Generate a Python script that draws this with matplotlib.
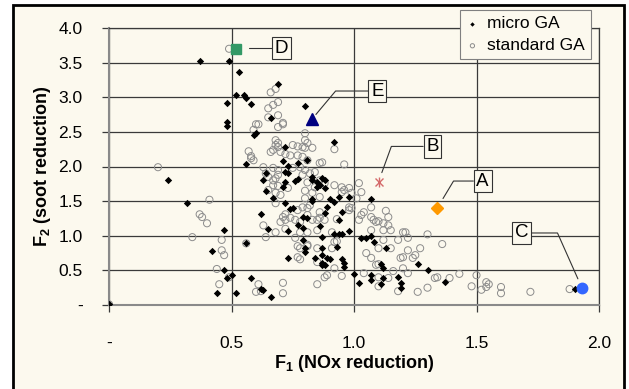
import matplotlib
matplotlib.use("Agg")
import matplotlib.pyplot as plt
from matplotlib.patches import Rectangle

# Pareto fronts: micro GA vs standard GA
micro_x = [0.37, 0.49, 0.53, 0.52, 0.55, 0.56, 0.48, 0.58, 0.48, 0.48, 0.59, 0.60, 0.56, 0.24,
           0.69, 0.66, 0.80, 0.72, 0.32, 0.47, 0.42, 0.47, 0.48, 0.44, 0.00, 0.62, 0.65, 0.56,
           0.73, 0.84, 0.58, 0.52, 0.62, 0.63, 0.66, 0.50, 0.71, 0.73, 0.77, 0.81, 0.64, 0.63,
           0.72, 0.73, 0.77, 0.76, 0.72, 0.71, 0.64, 0.83, 0.83, 0.85, 0.87, 0.85, 0.67, 0.72,
           0.83, 0.83, 0.75, 0.74, 0.79, 0.81, 0.77, 0.79, 0.73, 0.79, 0.80, 0.80, 0.87, 0.87,
           0.87, 0.87, 0.92, 0.88, 0.88, 0.90, 0.92, 0.94, 0.98, 1.07, 0.86, 0.89, 0.88, 0.95,
           0.94, 0.98, 0.95, 0.94, 0.92, 0.86, 0.87, 1.03, 1.05, 1.07, 1.08, 0.93, 0.89, 0.90,
           0.95, 0.96, 0.96, 0.88, 1.00, 1.02, 1.07, 1.07, 1.11, 1.12, 1.12, 1.11, 1.13, 1.18,
           1.19, 1.19, 1.26, 1.30, 1.37, 1.90]
micro_y = [3.52, 3.52, 3.36, 3.03, 3.03, 2.99, 2.91, 2.90, 2.64, 2.58, 2.45, 2.48, 2.03, 1.80,
           3.19, 2.70, 2.87, 2.28, 1.47, 1.08, 0.78, 0.50, 0.39, 0.17, 0.01, 1.31, 1.10, 0.89,
           0.68, 0.68, 0.39, 0.17, 0.23, 0.22, 0.12, 0.43, 2.08, 2.01, 2.05, 2.09, 1.90, 1.80,
           1.92, 1.90, 1.82, 1.79, 1.77, 1.70, 1.65, 1.85, 1.80, 1.77, 1.83, 1.70, 1.54, 1.47,
           1.50, 1.53, 1.40, 1.39, 1.27, 1.26, 1.15, 1.11, 1.07, 0.94, 0.82, 0.76, 0.82, 0.72,
           0.61, 0.58, 2.35, 1.80, 1.69, 1.53, 1.49, 1.56, 1.56, 1.53, 1.73, 1.41, 1.33, 1.34,
           1.23, 1.07, 1.02, 1.02, 1.02, 1.14, 0.98, 0.97, 0.97, 1.00, 0.91, 0.84, 0.68, 0.66,
           0.66, 0.61, 0.55, 0.58, 0.45, 0.32, 0.43, 0.36, 0.59, 0.53, 0.39, 0.30, 0.82, 0.40,
           0.32, 0.25, 0.59, 0.51, 0.33, 0.23]

std_x = [0.20, 0.41, 0.37, 0.38, 0.40, 0.34, 0.46, 0.46, 0.47, 0.44, 0.45, 0.00, 0.49, 0.66,
         0.68, 0.65, 0.67, 0.69, 0.69, 0.65, 0.69, 0.71, 0.60, 0.61, 0.59, 0.57, 0.58, 0.58,
         0.80, 0.80, 0.68, 0.68, 0.75, 0.79, 0.83, 0.66, 0.70, 0.72, 0.67, 0.64, 0.67, 0.63,
         0.71, 0.69, 0.69, 0.67, 0.77, 0.80, 0.81, 0.59, 0.74, 0.77, 0.79, 0.81, 0.86, 0.69,
         0.75, 0.78, 0.80, 0.82, 0.84, 0.65, 0.68, 0.69, 0.79, 0.81, 0.84, 0.86, 0.67, 0.69,
         0.73, 0.65, 0.68, 0.70, 0.80, 0.83, 0.80, 0.82, 0.68, 0.79, 0.72, 0.70, 0.71, 0.72,
         0.74, 0.76, 0.78, 0.81, 0.83, 0.85, 0.86, 0.77, 0.81, 0.72, 0.76, 0.78, 0.81, 0.85,
         0.81, 0.85, 0.49, 0.64, 0.63, 0.68, 0.61, 0.60, 0.62, 0.71, 0.71, 0.85, 0.77, 0.78,
         0.77, 0.78, 0.81, 0.85, 0.56, 0.92, 0.96, 0.87, 0.88, 0.92, 0.95, 0.96, 0.98, 0.95,
         0.99, 1.02, 1.03, 1.01, 1.07, 0.86, 0.98, 0.93, 0.98, 0.99, 1.02, 1.03, 1.04, 1.07,
         1.08, 1.09, 1.10, 1.12, 1.14, 1.13, 1.14, 1.07, 1.12, 1.15, 1.20, 1.21, 1.12, 1.18,
         1.22, 0.91, 0.92, 0.93, 0.91, 1.05, 1.07, 1.10, 1.15, 1.19, 1.20, 1.22, 1.24, 1.27,
         1.09, 1.10, 0.92, 0.89, 0.88, 0.95, 1.04, 1.10, 1.14, 1.16, 1.20, 1.22, 1.18, 1.26,
         0.86, 0.88, 1.30, 1.36, 1.25, 1.43, 1.34, 1.33, 1.39, 1.50, 1.54, 1.55, 1.54, 1.52,
         1.48, 1.60, 1.60, 1.72, 1.88, 1.30, 1.10]
std_y = [1.99, 1.52, 1.31, 1.27, 1.18, 0.98, 0.94, 0.79, 0.72, 0.52, 0.30, 0.01, 3.70, 3.07,
         3.12, 2.84, 2.89, 2.93, 2.74, 2.71, 2.57, 2.61, 2.61, 2.61, 2.53, 2.22, 2.15, 2.12,
         2.48, 2.38, 2.38, 2.31, 2.31, 2.28, 2.27, 2.21, 2.21, 2.18, 1.98, 1.90, 1.80, 1.99,
         2.63, 2.34, 2.28, 2.24, 2.29, 2.27, 2.34, 2.09, 2.16, 2.16, 2.14, 2.09, 2.05, 1.95,
         1.98, 1.99, 1.95, 1.90, 1.92, 1.85, 1.83, 1.88, 1.88, 1.77, 1.70, 1.80, 1.73, 1.72,
         1.69, 1.66, 1.62, 1.59, 1.65, 1.62, 1.54, 1.44, 1.47, 1.41, 1.23, 1.20, 1.27, 1.31,
         1.26, 1.23, 1.20, 1.30, 1.23, 1.23, 1.34, 1.37, 1.40, 1.10, 0.97, 1.05, 1.05, 1.08,
         0.87, 0.62, 0.40, 0.98, 1.15, 1.05, 0.30, 0.19, 0.20, 0.32, 0.17, 0.30, 0.69, 0.66,
         0.85, 0.82, 0.85, 0.82, 0.89, 2.25, 2.03, 2.06, 1.76, 1.73, 1.70, 1.66, 1.69, 1.63,
         1.62, 1.76, 1.63, 1.54, 1.41, 1.56, 1.41, 1.24, 1.37, 1.40, 1.23, 1.30, 1.34, 1.27,
         1.23, 1.20, 1.21, 1.18, 1.27, 1.36, 1.15, 1.08, 1.08, 1.08, 1.05, 1.05, 0.94, 0.94,
         0.97, 1.05, 0.91, 0.92, 0.82, 0.75, 0.68, 0.82, 0.82, 0.68, 0.69, 0.79, 0.68, 0.82,
         0.58, 0.59, 0.53, 0.43, 0.40, 0.42, 0.46, 0.27, 0.39, 0.49, 0.53, 0.46, 0.20, 0.19,
         1.26, 1.23, 1.02, 0.88, 0.72, 0.45, 0.40, 0.39, 0.39, 0.43, 0.33, 0.30, 0.26, 0.22,
         0.27, 0.26, 0.17, 0.19, 0.23, 0.25, 0.40]

# highlighted solutions A-E
pt_labels = ["A", "B", "C", "D", "E"]
pt_x = [1.34, 1.10, 1.93, 0.52, 0.83]
pt_y = [1.40, 1.78, 0.25, 3.69, 2.69]

x_ticks = [0, 0.5, 1.0, 1.5, 2.0]
x_tick_labels = ["-", "0.5", "1.0", "1.5", "2.0"]
y_ticks = [0, 0.5, 1.0, 1.5, 2.0, 2.5, 3.0, 3.5, 4.0]
y_tick_labels = ["-", "0.5", "1.0", "1.5", "2.0", "2.5", "3.0", "3.5", "4.0"]

CREAM = "#FCF9EE"
GRID = "#3a3a3a"

plt.rcParams["font.family"] = ["Liberation Sans", "DejaVu Sans"]
plt.rcParams["mathtext.fontset"] = "custom"
plt.rcParams["mathtext.rm"] = "Liberation Sans:bold"
plt.rcParams["mathtext.default"] = "rm"

fig = plt.figure(figsize=(6.29, 3.89), dpi=100, facecolor="white")
# cream panel with black frame, like the original spreadsheet export
fig.patches.append(Rectangle((13 / 629, -0.05), (624 - 13) / 629, 0.987 + 0.05,
                             transform=fig.transFigure, facecolor=CREAM,
                             edgecolor="black", lw=2, zorder=-10))

ax = fig.add_axes([109 / 629, 1 - 305 / 389, (599 - 109) / 629, (305 - 28) / 389])
ax.set_facecolor(CREAM)
ax.set_xlim(0, 2)
ax.set_ylim(0, 4)

h_std = ax.scatter(std_x, std_y, s=26, facecolors="none", edgecolors="#8c8c8c",
                   linewidths=0.7, label="standard GA", zorder=3)
h_micro = ax.scatter(micro_x, micro_y, s=14, marker="D", color="black", linewidths=0,
                     label="micro GA", zorder=4)

# special points
ax.plot(pt_x[0], pt_y[0], marker="D", ms=6.5, color="#FF9900", mec="#FF9900", zorder=6)
ax.plot(pt_x[1], pt_y[1], marker="x", ms=6, color="#D46A6A", mew=1.0, zorder=6)
ax.plot(pt_x[1], pt_y[1], marker="|", ms=7, color="#D46A6A", mew=1.0, zorder=6)
ax.plot(pt_x[2], pt_y[2], marker="o", ms=7.5, color="#3366FF", zorder=6)
ax.plot(pt_x[3], pt_y[3], marker="s", ms=7.5, color="#339966", zorder=6)
ax.plot(pt_x[4], pt_y[4], marker="^", ms=8.5, color="#000080", zorder=6)

# label boxes with elbow leader lines
label_pos = {"A": (1.525, 1.79), "B": (1.32, 2.29), "C": (1.685, 1.04),
             "D": (0.705, 3.71), "E": (1.095, 3.09)}
leader_angle = {"A": 59, "B": 70, "C": -66, "D": 41, "E": 50}
leader_gap = {"A": 8, "B": 7, "C": 7, "D": 9, "E": 4}
for lbl, x, y in zip(pt_labels, pt_x, pt_y):
    ax.annotate(lbl, xy=(x, y), xytext=label_pos[lbl], textcoords="data",
                fontsize=13.5, ha="center", va="center", zorder=7,
                bbox=dict(boxstyle="square,pad=0.14", fc=CREAM, ec="#333333", lw=0.8),
                arrowprops=dict(arrowstyle="-", color="#333333", lw=0.8,
                                shrinkA=0, shrinkB=leader_gap[lbl],
                                connectionstyle=f"angle,angleA=0,angleB={leader_angle[lbl]},rad=0"))

ax.set_xticks(x_ticks)
ax.set_xticklabels(x_tick_labels)
ax.set_yticks(y_ticks)
ax.set_yticklabels(y_tick_labels)
ax.tick_params(axis="both", direction="out", length=5, width=0.9, color=GRID, labelsize=12.5)
ax.tick_params(axis="x", pad=17)
ax.tick_params(axis="y", pad=14)
ax.grid(True, color=GRID, lw=0.9)
ax.set_axisbelow(True)
for side in ["top", "right"]:
    ax.spines[side].set_color(GRID)
    ax.spines[side].set_linewidth(0.9)
for side in ["left", "bottom"]:
    ax.spines[side].set_color("#8a8a8a")
    ax.spines[side].set_linewidth(1.5)

ax.set_xlabel("F$_1$ (NOx reduction)", fontsize=13, fontweight="bold", labelpad=2)
ax.set_ylabel("F$_2$ (soot reduction)", fontsize=13, fontweight="bold", labelpad=4)

leg = ax.legend(handles=[h_micro, h_std], loc="upper right",
                bbox_to_anchor=(591 / 629, 1 - 10 / 389),
                bbox_transform=fig.transFigure, borderaxespad=0, fontsize=12.5,
                handlelength=0.7, handletextpad=0.5, labelspacing=0.4,
                borderpad=0.35, fancybox=False, framealpha=1, markerscale=0.6)
leg.get_frame().set_facecolor(CREAM)
leg.get_frame().set_edgecolor("#808080")
leg.get_frame().set_linewidth(0.8)
leg.set_zorder(10)

fig.savefig("out.png", dpi=100, facecolor="white")
